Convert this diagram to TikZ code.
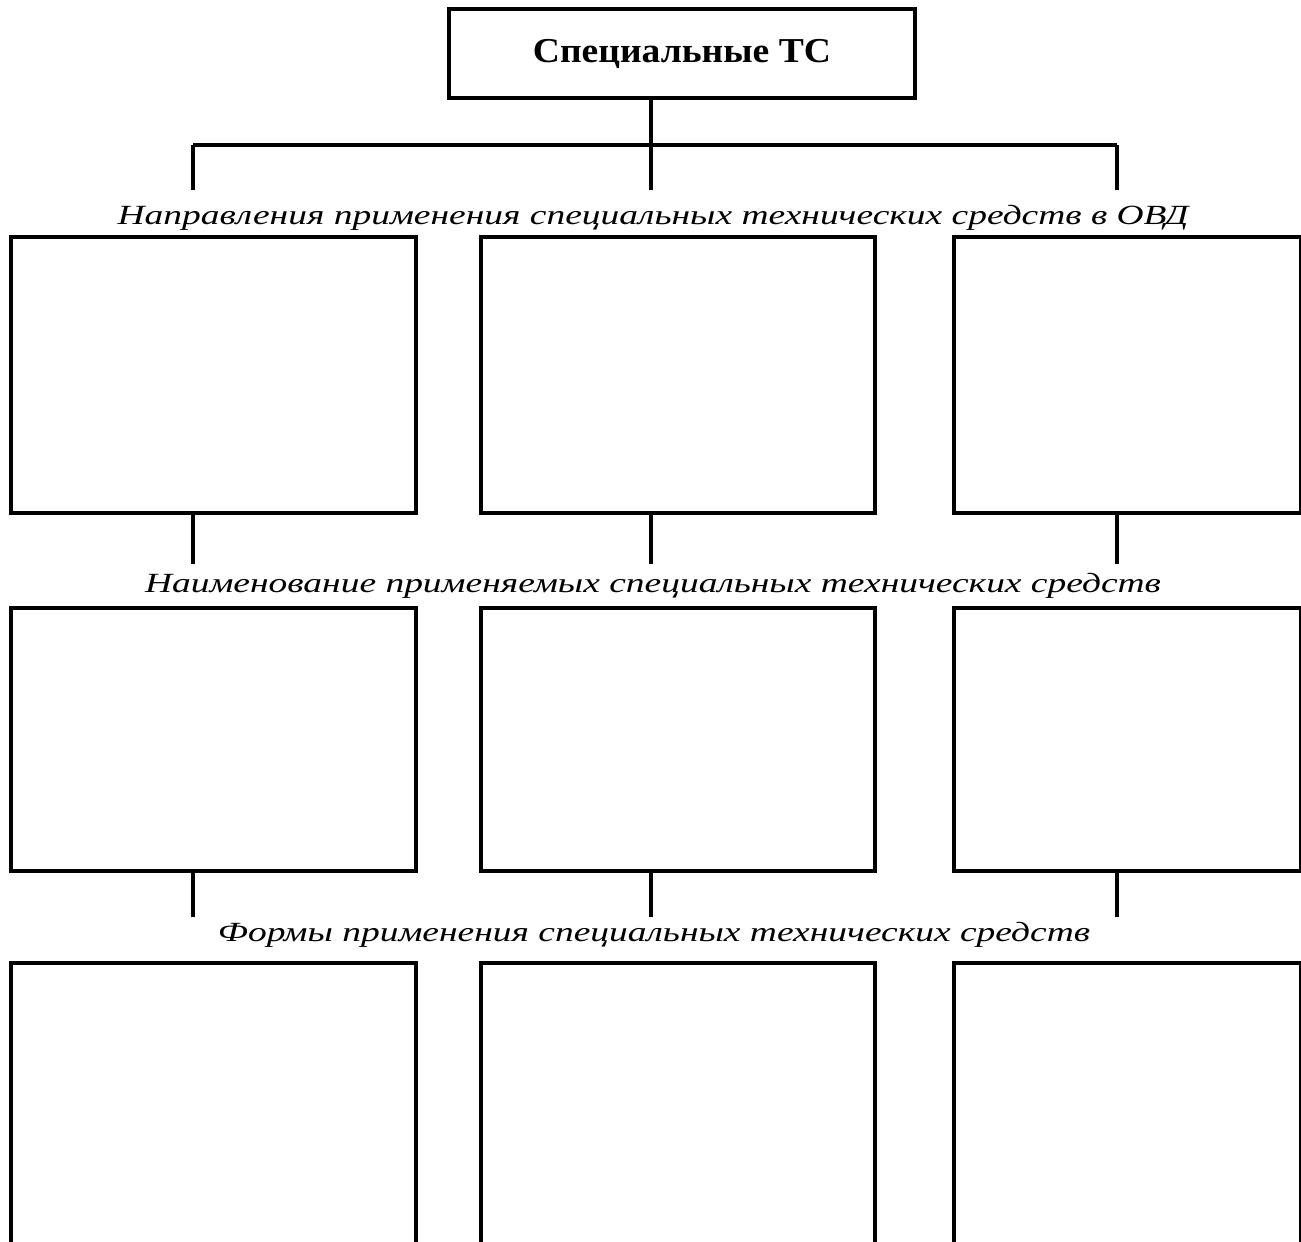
\documentclass[tikz,border=0pt]{standalone}
\usepackage{fontspec}
\setmainfont{Liberation Serif}
\newfontfamily\headfont[FakeStretch=1.075]{Liberation Serif Bold}
\newfontfamily\capfont[FakeStretch=1.35]{Liberation Serif Italic}
\usetikzlibrary{positioning}

\begin{document}
\begin{tikzpicture}[x=0.02cm, y=-0.02cm,
    frame/.style={draw, line width=2.3pt, inner sep=0pt, anchor=north west},
    link/.style={line width=2.3pt},
    caption/.style={anchor=base, inner sep=0pt, font=\fontsize{15.8}{19}\selectfont\capfont}]

\clip (0,0) rectangle (1301,1241);

% ============================
\node[frame, minimum width=9.32cm, minimum height=1.78cm, font=\fontsize{19.9}{24}\selectfont\headfont] (head) at (447,7) {Специальные ТС};

% ============================
\coordinate (c1) at (193,0);
\coordinate (c2) at (651,0);
\coordinate (c3) at (1117,0);
\coordinate (bus) at (0,145);

% ============================
\node[caption] (lab1) at (653,224) {Направления применения специальных технических средств в ОВД};
\node[caption] (lab2) at (653,592) {Наименование применяемых специальных технических средств};
\node[caption] (lab3) at (654,941) {Формы применения специальных технических средств};

% ============================
\node[frame, minimum width=8.10cm, minimum height=5.52cm] (r1a) at (9,235) {};
\node[frame, minimum width=7.89cm, minimum height=5.52cm] (r1b) at (479,235) {};
\node[frame, minimum width=6.95cm, minimum height=5.52cm] (r1c) at (951.5,235) {};

\node[frame, minimum width=8.10cm, minimum height=5.26cm] (r2a) at (9,606) {};
\node[frame, minimum width=7.89cm, minimum height=5.26cm] (r2b) at (479,606) {};
\node[frame, minimum width=6.95cm, minimum height=5.26cm] (r2c) at (951.5,606) {};

\node[frame, minimum width=8.10cm, minimum height=8cm] (r3a) at (9,961) {};
\node[frame, minimum width=7.89cm, minimum height=8cm] (r3b) at (479,961) {};
\node[frame, minimum width=6.95cm, minimum height=8cm] (r3c) at (951.5,961) {};

% ============================
\draw[link] (head.south -| c2) -- (bus -| c2) -- +(0,45);
\draw[link] (bus -| c1) -- (bus -| c3);
\draw[link] (bus -| c1) -- +(0,45);
\draw[link] (bus -| c3) -- +(0,45);

\draw[link] (r1a.south -| c1) -- +(0,49);
\draw[link] (r1b.south -| c2) -- +(0,49);
\draw[link] (r1c.south -| c3) -- +(0,49);

\draw[link] (r2a.south -| c1) -- +(0,44);
\draw[link] (r2b.south -| c2) -- +(0,44);
\draw[link] (r2c.south -| c3) -- +(0,44);

\end{tikzpicture}
\end{document}
